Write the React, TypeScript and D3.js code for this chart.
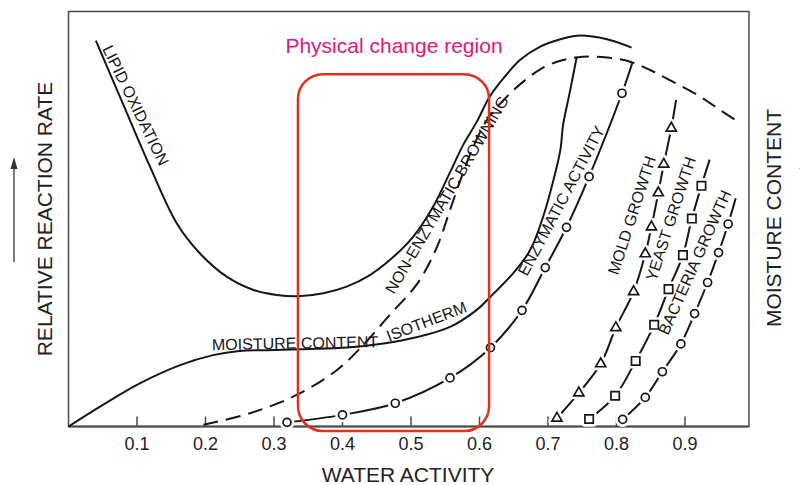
import React from 'react';
import * as d3 from 'd3';

// ---------- data (water activity aw, relative rate 0-100) ----------
const xTickValues = [0.1, 0.2, 0.3, 0.4, 0.5, 0.6, 0.7, 0.8, 0.9];
const xTickLabels = ['0.1', '0.2', '0.3', '0.4', '0.5', '0.6', '0.7', '0.8', '0.9'];

const lipidAw = [0.040, 0.075, 0.119, 0.158, 0.192, 0.231, 0.270, 0.304, 0.335, 0.372, 0.406, 0.440, 0.469, 0.503, 0.532, 0.558, 0.576, 0.596, 0.615, 0.635, 0.659, 0.688, 0.722, 0.747, 0.786, 0.822];
const lipidRate = [93.0, 79.5, 62.6, 49.0, 41.7, 36.1, 32.9, 31.7, 31.4, 32.1, 33.7, 36.5, 40.1, 45.7, 52.9, 61.6, 67.8, 73.4, 79.5, 83.9, 88.3, 91.5, 93.5, 94.2, 93.3, 91.3];

const browningAw = [0.197, 0.265, 0.333, 0.392, 0.430, 0.469, 0.510, 0.538, 0.557, 0.574, 0.591, 0.611, 0.640, 0.664, 0.693, 0.722, 0.751, 0.786, 0.820, 0.849, 0.882, 0.922, 0.951, 0.975];
const browningRate = [0.4, 3.2, 7.6, 13.6, 19.6, 26.9, 34.6, 43.3, 52.2, 60.2, 67.4, 73.9, 79.5, 83.1, 86.5, 88.3, 89.1, 88.9, 87.9, 85.9, 83.1, 79.5, 76.3, 73.7];

const isothermAw = [0, 0.046, 0.104, 0.163, 0.211, 0.250, 0.289, 0.338, 0.411, 0.460, 0.508, 0.557, 0.596, 0.615, 0.649, 0.674, 0.693, 0.708, 0.718, 0.722, 0.732, 0.742];
const isothermMoisture = [0, 4.8, 10.4, 14.8, 17.2, 18.2, 18.4, 18.6, 19.1, 20.0, 21.5, 24.0, 28.1, 31.1, 36.9, 42.5, 50.6, 59.4, 66.6, 72.6, 80.7, 89.1];

const enzymaticAw = [0.319, 0.400, 0.477, 0.557, 0.616, 0.662, 0.696, 0.727, 0.760, 0.808];
const enzymaticRate = [1.0, 2.8, 5.6, 11.7, 19.0, 28.0, 38.3, 48.0, 60.2, 80.3];
const enzymaticEnd = [0.823, 87.6];

const moldAw = [0.713, 0.745, 0.777, 0.799, 0.825, 0.842, 0.851, 0.861, 0.869, 0.880];
const moldRate = [2.0, 8.1, 15.1, 23.8, 32.5, 41.6, 48.1, 56.3, 63.2, 71.9];
const moldEnd = [0.887, 78.7];

const yeastAw = [0.760, 0.798, 0.828, 0.855, 0.876, 0.897, 0.910, 0.924];
const yeastRate = [1.8, 7.4, 15.8, 24.5, 33.1, 41.3, 50.1, 58.0];
const yeastEnd = [0.936, 64.3];

const bacteriaAw = [0.809, 0.842, 0.867, 0.894, 0.914, 0.933, 0.949, 0.963];
const bacteriaRate = [1.7, 7.0, 13.2, 19.9, 27.2, 34.7, 41.9, 48.8];
const bacteriaEnd = [0.974, 55.0];

const regionAw = [0.335, 0.614];
const regionRate = [-1.1, 84.9];

// ---------- component ----------
const FONT = '"Liberation Sans", Arial, Helvetica, sans-serif';
const INK = '#161616';

type P = [number, number];
const zip = (a: number[], b: number[]): P[] => a.map((v, i) => [v, b[i]] as P);

export default function App() {
  const W = 800, H = 485;
  const x = d3.scaleLinear().domain([0, 1]).range([68.5, 753.5]);
  const y = d3.scaleLinear().domain([0, 100]).range([426.5, 11.5]);
  const awMax = 0.9934;

  const line = d3.line<P>().x(d => x(d[0])).y(d => y(d[1])).curve(d3.curveCatmullRom.alpha(0.5));

  const lipid = zip(lipidAw, lipidRate);
  const browning = zip(browningAw, browningRate);
  const isotherm = zip(isothermAw, isothermMoisture);

  const markerSeries = [
    { pts: zip(enzymaticAw, enzymaticRate), end: enzymaticEnd as P, shape: d3.symbolCircle, size: 50 },
    { pts: zip(moldAw, moldRate), end: moldEnd as P, shape: d3.symbolTriangle, size: 44 },
    { pts: zip(yeastAw, yeastRate), end: yeastEnd as P, shape: d3.symbolSquare, size: 70 },
    { pts: zip(bacteriaAw, bacteriaRate), end: bacteriaEnd as P, shape: d3.symbolCircle, size: 50 },
  ];

  const labels = [
    { t: 'LIPID OXIDATION', aw: 0.0489, r: 91.0, a: 64 },
    { t: 'NON-ENZYMATIC BROWNING', aw: 0.4752, r: 31.7, a: -59.4 },
    { t: 'ENZYMATIC ACTIVITY', aw: 0.6693, r: 36.0, a: -62 },
    { t: 'MOLD GROWTH', aw: 0.8022, r: 36.3, a: -72 },
    { t: 'YEAST GROWTH', aw: 0.8577, r: 34.8, a: -72 },
    { t: 'BACTERIA GROWTH', aw: 0.8752, r: 21.8, a: -66 },
    { t: 'MOISTURE CONTENT', aw: 0.2095, r: 18.4, a: -1 },
    { t: 'ISOTHERM', aw: 0.4679, r: 20.4, a: -21 },
  ];

  const y0 = y(0);
  const arrowL = 14;

  return (
    <svg width={W} height={H} style={{ position: 'absolute', left: 0, top: 0, background: '#fff' }} fontFamily={FONT}>
      <rect x={0} y={0} width={W} height={H} fill="#fff" />
      {/* frame */}
      <rect x={x(0)} y={y(100)} width={x(awMax) - x(0)} height={y(0) - y(100)} fill="none" stroke="#4a4a4a" strokeWidth={1.5} />
      <line x1={x(0)} x2={x(awMax)} y1={y0} y2={y0} stroke="#4a4a4a" strokeWidth={2} />
      {xTickValues.map((t, i) => (
        <g key={t}>
          <line x1={x(t)} x2={x(t)} y1={y0} y2={y0 - 10} stroke="#4a4a4a" strokeWidth={1.5} />
          <text x={x(t)} y={450} fontSize={18} textAnchor="middle" fill="#222">{xTickLabels[i]}</text>
        </g>
      ))}

      {/* curves */}
      <path d={line(lipid) || ''} fill="none" stroke={INK} strokeWidth={2} />
      <path d={line(isotherm) || ''} fill="none" stroke={INK} strokeWidth={2} />
      <path d={line(browning) || ''} fill="none" stroke={INK} strokeWidth={2} strokeDasharray="15 8" />

      {markerSeries.map((s, i) => {
        const all = [...s.pts, s.end];
        const sym = d3.symbol().type(s.shape).size(s.size)();
        return (
          <g key={i}>
            <path d={line(all) || ''} fill="none" stroke={INK} strokeWidth={2} />
            {s.pts.map((p, j) => (
              <path key={'k' + j} d={sym || ''} transform={`translate(${x(p[0])},${y(p[1])})`} fill="#fff" stroke="#fff" strokeWidth={7} strokeLinejoin="round" />
            ))}
            {s.pts.map((p, j) => (
              <path key={'m' + j} d={sym || ''} transform={`translate(${x(p[0])},${y(p[1])})`} fill="#fff" stroke={INK} strokeWidth={1.7} />
            ))}
          </g>
        );
      })}

      {/* curve labels */}
      {labels.map(l => (
        <text key={l.t} transform={`translate(${x(l.aw)},${y(l.r)}) rotate(${l.a})`} fontSize={16} fill={INK}>{l.t}</text>
      ))}

      {/* physical change region */}
      <rect x={x(regionAw[0])} y={y(regionRate[1])} width={x(regionAw[1]) - x(regionAw[0])} height={y(regionRate[0]) - y(regionRate[1])}
        rx={25} ry={25} fill="none" stroke="#e0301e" strokeWidth={2.5} />
      <text x={x(0.4752)} y={y(89.9)} fontSize={21} textAnchor="middle" fill="#e5157a">Physical change region</text>

      {/* axis titles */}
      <text x={408} y={482} fontSize={21} textAnchor="middle" fill="#222">WATER ACTIVITY</text>
      <text transform="translate(51.5,219) rotate(-90)" fontSize={21} textAnchor="middle" fill="#222">RELATIVE REACTION RATE</text>
      <text transform="translate(780.5,218) rotate(-90)" fontSize={21} textAnchor="middle" fill="#222">MOISTURE CONTENT</text>

      {/* arrows */}
      <line x1={arrowL} x2={arrowL} y1={262} y2={168} stroke="#333" strokeWidth={1.3} />
      <path d={`M${arrowL},157 L${arrowL - 3.5},169 L${arrowL + 3.5},169 Z`} fill="#333" />
      <line x1={803} x2={803} y1={270} y2={168} stroke="#333" strokeWidth={1.3} />
      <path d="M803,157 L799.5,169 L806.5,169 Z" fill="#333" />
    </svg>
  );
}
